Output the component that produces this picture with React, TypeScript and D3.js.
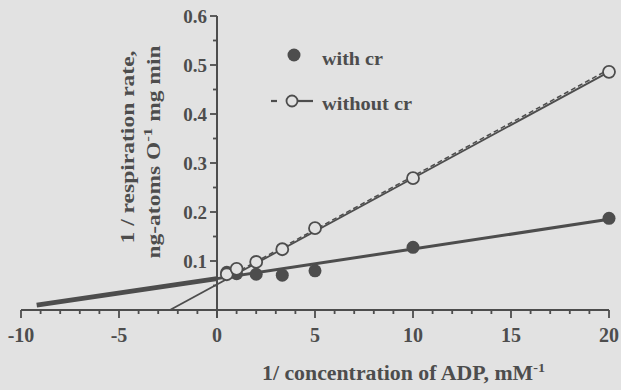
import React from "react";
import * as d3 from "d3";

const xWith = [0.5, 1, 2, 3.33, 5, 10, 20];
const yWith = [0.077, 0.074, 0.073, 0.071, 0.08, 0.128, 0.187];
const xWithout = [0.5, 1, 2, 3.33, 5, 10, 20];
const yWithout = [0.073, 0.084, 0.098, 0.124, 0.167, 0.269, 0.486];
// regression lines: [x, y] endpoints
const lineWithNeg = [[-9.2, 0.01], [0, 0.064]];
const lineWith = [[0, 0.064], [20, 0.185]];
const lineWithout = [[-2.4, 0], [20, 0.486]];
const lineWithoutDash = [[0.5, 0.063], [20, 0.488]];
const xTicks = [-10, -5, 0, 5, 10, 15, 20];
const yTicks = [0.1, 0.2, 0.3, 0.4, 0.5, 0.6];

const W = 621, H = 390;
const bg = "#e2e2e2";
const ink = "#4d4d4d";
const font = "'Liberation Serif', 'DejaVu Serif', serif";

export default function App() {
  const x = d3.scaleLinear().domain([-10, 20]).range([21, 609]);
  const y = d3.scaleLinear().domain([0, 0.6]).range([310, 16]);
  const line = d3.line<number[]>().x(d => x(d[0])).y(d => y(d[1]));
  const minorX = d3.range(-10, 21, 1);
  const minorY = d3.range(0.05, 0.6, 0.1);
  return (
    <svg width={W} height={H} style={{ position: "absolute", left: 0, top: 0, background: bg }}>
      <rect width={W} height={H} fill={bg} />
      {/* axes */}
      <line x1={x(-10)} x2={x(20)} y1={y(0)} y2={y(0)} stroke={ink} strokeWidth={2} />
      <line x1={x(0)} x2={x(0)} y1={y(0.6)} y2={y(0) + 8} stroke={ink} strokeWidth={2} />
      {minorX.map(v => (
        <line key={"mx" + v} x1={x(v)} x2={x(v)} y1={y(0)} y2={y(0) + (v % 5 === 0 ? 8 : 4)} stroke={ink} strokeWidth={1.8} />
      ))}
      {xTicks.map(v => (
        <text key={"xt" + v} x={x(v)} y={342} textAnchor="middle" fontFamily={font} fontWeight="bold" fontSize={20} fill={ink}>{v}</text>
      ))}
      {yTicks.map(v => (
        <g key={"yt" + v}>
          <line x1={x(0) - 7} x2={x(0)} y1={y(v)} y2={y(v)} stroke={ink} strokeWidth={1.8} />
          <text x={x(0) - 10} y={y(v) + 7} textAnchor="end" fontFamily={font} fontWeight="bold" fontSize={19} fill={ink}>{v.toFixed(1)}</text>
        </g>
      ))}
      {minorY.map(v => (
        <line key={"my" + v} x1={x(0) - 4} x2={x(0)} y1={y(v)} y2={y(v)} stroke={ink} strokeWidth={1.8} />
      ))}
      {/* lines */}
      <path d={line(lineWithNeg) || ""} stroke={ink} strokeWidth={5} fill="none" />
      <path d={line(lineWith) || ""} stroke={ink} strokeWidth={3} fill="none" />
      <path d={line(lineWithout) || ""} stroke={ink} strokeWidth={1.8} fill="none" />
      <path d={line(lineWithoutDash) || ""} stroke={ink} strokeWidth={1.5} strokeDasharray="5,3" fill="none" transform="translate(0,-1.5)" />
      {/* points */}
      {xWith.map((v, i) => (
        <circle key={"w" + i} cx={x(v)} cy={y(yWith[i])} r={6.5} fill={ink} />
      ))}
      {xWithout.map((v, i) => (
        <circle key={"wo" + i} cx={x(v)} cy={y(yWithout[i])} r={6} fill={bg} stroke={ink} strokeWidth={1.8} />
      ))}
      {/* legend */}
      <circle cx={294} cy={55} r={6.5} fill={ink} />
      <text x={322} y={65} fontFamily={font} fontWeight="bold" fontSize={19} fill={ink} textLength={61} lengthAdjust="spacingAndGlyphs">with cr</text>
      <line x1={271} x2={277} y1={101} y2={101} stroke={ink} strokeWidth={2.2} />
      <line x1={297} x2={313} y1={101} y2={101} stroke={ink} strokeWidth={2.2} />
      <circle cx={292} cy={101} r={5.5} fill={bg} stroke={ink} strokeWidth={1.8} />
      <text x={322} y={110} fontFamily={font} fontWeight="bold" fontSize={19} fill={ink} textLength={90} lengthAdjust="spacingAndGlyphs">without cr</text>
      {/* axis titles */}
      <text transform="translate(134,147) rotate(-90)" textAnchor="middle" fontFamily={font} fontWeight="bold" fontSize={18} fill={ink} textLength={193} lengthAdjust="spacingAndGlyphs">1 / respiration rate,</text>
      <text transform="translate(160,152) rotate(-90)" textAnchor="middle" fontFamily={font} fontWeight="bold" fontSize={18} fill={ink} textLength={213} lengthAdjust="spacingAndGlyphs">
        ng-atoms O<tspan dy={-8} fontSize={13}>-1</tspan><tspan dy={8}>  mg min</tspan>
      </text>
      <text x={262} y={380} fontFamily={font} fontWeight="bold" fontSize={20} fill={ink} textLength={283} lengthAdjust="spacingAndGlyphs">
        1/ concentration of ADP, mM<tspan dy={-8} fontSize={13}>-1</tspan>
      </text>
    </svg>
  );
}
